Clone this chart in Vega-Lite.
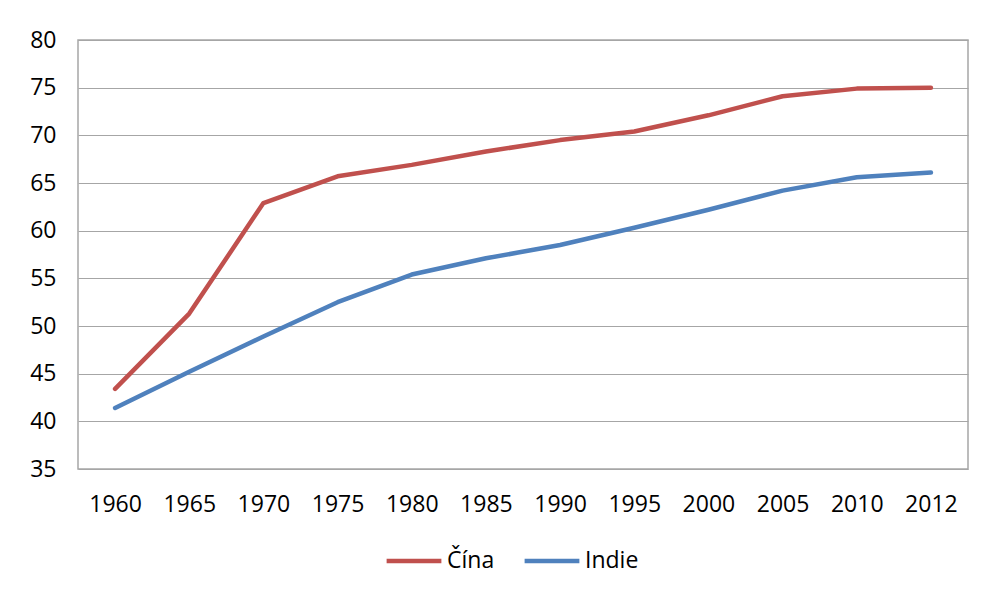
{
  "$schema": "https://vega.github.io/schema/vega-lite/v6.json",
  "width": 890,
  "height": 429,
  "autosize": {"type": "none"},
  "padding": {"left": 78, "top": 40, "right": 16, "bottom": 124},
  "background": "white",
  "data": {
    "values": [
      {"year": "1960", "country": "Čína", "value": 43.4},
      {"year": "1965", "country": "Čína", "value": 51.3},
      {"year": "1970", "country": "Čína", "value": 62.9},
      {"year": "1975", "country": "Čína", "value": 65.7},
      {"year": "1980", "country": "Čína", "value": 66.9},
      {"year": "1985", "country": "Čína", "value": 68.3},
      {"year": "1990", "country": "Čína", "value": 69.5},
      {"year": "1995", "country": "Čína", "value": 70.4},
      {"year": "2000", "country": "Čína", "value": 72.1},
      {"year": "2005", "country": "Čína", "value": 74.1},
      {"year": "2010", "country": "Čína", "value": 74.9},
      {"year": "2012", "country": "Čína", "value": 75.0},
      {"year": "1960", "country": "Indie", "value": 41.4},
      {"year": "1965", "country": "Indie", "value": 45.2},
      {"year": "1970", "country": "Indie", "value": 48.9},
      {"year": "1975", "country": "Indie", "value": 52.5},
      {"year": "1980", "country": "Indie", "value": 55.4},
      {"year": "1985", "country": "Indie", "value": 57.1},
      {"year": "1990", "country": "Indie", "value": 58.5},
      {"year": "1995", "country": "Indie", "value": 60.3},
      {"year": "2000", "country": "Indie", "value": 62.2},
      {"year": "2005", "country": "Indie", "value": 64.2},
      {"year": "2010", "country": "Indie", "value": 65.6},
      {"year": "2012", "country": "Indie", "value": 66.1}
    ]
  },
  "mark": {"type": "line", "strokeWidth": 4.5, "strokeCap": "round", "strokeJoin": "round"},
  "encoding": {
    "x": {
      "field": "year",
      "type": "ordinal",
      "scale": {"type": "point", "padding": 0.5},
      "axis": {
        "title": null,
        "labelAngle": 0,
        "ticks": false,
        "domain": false,
        "grid": false,
        "labelPadding": 24,
        "labelFontSize": 23,
        "labelFont": "Open Sans",
        "labelColor": "#000000"
      }
    },
    "y": {
      "field": "value",
      "type": "quantitative",
      "scale": {"domain": [35, 80], "nice": false, "zero": false},
      "axis": {
        "title": null,
        "values": [35, 40, 45, 50, 55, 60, 65, 70, 75, 80],
        "ticks": false,
        "domain": false,
        "grid": true,
        "gridColor": "#a6a6a6",
        "gridWidth": 1.2,
        "labelPadding": 22,
        "labelFontSize": 23,
        "labelFont": "Open Sans",
        "labelColor": "#000000"
      }
    },
    "color": {
      "field": "country",
      "type": "nominal",
      "scale": {"domain": ["Čína", "Indie"], "range": ["#C0504D", "#4F81BD"]},
      "legend": {
        "title": null,
        "orient": "none",
        "direction": "horizontal",
        "legendX": 306,
        "legendY": 491,
        "symbolType": "stroke",
        "symbolSize": 3000,
        "symbolStrokeWidth": 4.5,
        "labelFontSize": 23,
        "labelFont": "Open Sans",
        "labelColor": "#000000",
        "labelOffset": 3,
        "columnPadding": 20
      }
    }
  },
  "config": {
    "view": {"stroke": "#a6a6a6", "strokeWidth": 1.5}
  }
}
